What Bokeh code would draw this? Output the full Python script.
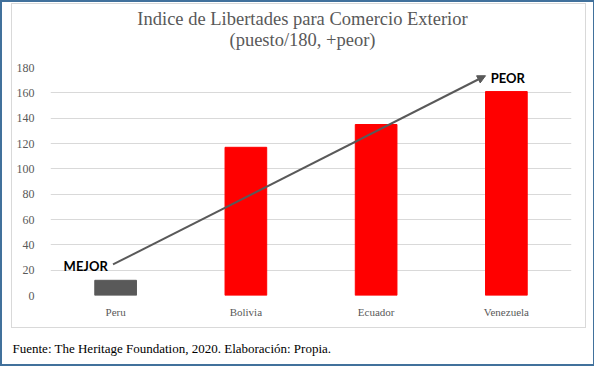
from bokeh.plotting import figure
from bokeh.models import (ColumnDataSource, FactorRange, Range1d, FixedTicker, Label,
                          Arrow, NormalHead)
from bokeh.layouts import column
from bokeh.embed import file_html
from bokeh.resources import INLINE

# ---- data ----
countries = ["Peru", "Bolivia", "Ecuador", "Venezuela"]
rank = [12, 117, 135, 161]
bar_colors = ["#595959", "#ff0000", "#ff0000", "#ff0000"]
y_ticks = [0, 20, 40, 60, 80, 100, 120, 140, 160, 180]

title_lines = ["Indice de Libertades para Comercio Exterior", "(puesto/180, +peor)"]
footer = "Fuente: The Heritage Foundation, 2020. Elaboración: Propia."

# arrow from "MEJOR" to "PEOR" (x in category units, y in rank units)
arrow_x = [0.48, 3.34]
arrow_y = [24.5, 173.5]
note_text = ["MEJOR", "PEOR"]
note_x = [0.44, 3.38]
note_y = [23, 172]


def text_strip(width, height):
    fig = figure(width=width, height=height, output_backend="svg", toolbar_location=None,
                 x_range=Range1d(0, 1), y_range=Range1d(0, 1), x_axis_type=None,
                 y_axis_type=None, min_border=0)
    fig.frame_align = False
    fig.grid.visible = False
    fig.outline_line_color = None
    return fig


# ---- header (two-line title) ----
h = text_strip(573, 55)
for line, ypos in zip(title_lines, [41, 20]):
    h.add_layout(Label(x=290, y=ypos, x_units="screen", y_units="screen", text=line,
                       text_align="center", text_baseline="middle",
                       text_font="Liberation Serif", text_font_size="18.5px",
                       text_color="#595959"))

# ---- main chart ----
p = figure(x_range=FactorRange(*countries), y_range=Range1d(0, 180),
           width=573, height=268, output_backend="svg", toolbar_location=None,
           min_border_left=38, min_border_right=14, min_border_top=8,
           min_border_bottom=32)
p.frame_align = False

src = ColumnDataSource(dict(x=countries, top=rank, color=bar_colors))
p.vbar(x="x", top="top", width=0.32, color="color", source=src)

p.yaxis.ticker = FixedTicker(ticks=y_ticks)
p.yaxis.axis_line_color = None
p.yaxis.major_tick_line_color = None
p.yaxis.minor_tick_line_color = None
p.yaxis.major_label_text_font = "Liberation Serif"
p.yaxis.major_label_text_font_size = "12px"
p.yaxis.major_label_text_color = "#595959"
p.yaxis.major_label_standoff = 10

p.xaxis.axis_line_color = None
p.xaxis.major_tick_line_color = None
p.xaxis.major_label_text_font = "Liberation Serif"
p.xaxis.major_label_text_font_size = "11px"
p.xaxis.major_label_text_color = "#595959"
p.xaxis.major_label_standoff = 4

p.xgrid.grid_line_color = None
p.ygrid.grid_line_color = "#d9d9d9"
p.outline_line_color = None

p.add_layout(Arrow(end=NormalHead(size=8, fill_color="#595959", line_color="#595959"),
                   x_start=arrow_x[0], y_start=arrow_y[0],
                   x_end=arrow_x[1], y_end=arrow_y[1],
                   line_color="#595959", line_width=2))
p.add_layout(Label(x=note_x[0], y=note_y[0], text=note_text[0], text_align="right",
                   text_baseline="middle", text_font="Lato", text_font_style="bold",
                   text_font_size="13px", text_color="#000000"))
p.add_layout(Label(x=note_x[1], y=note_y[1], text=note_text[1], text_align="left",
                   text_baseline="middle", text_font="Lato", text_font_style="bold",
                   text_font_size="13px", text_color="#000000"))

# ---- footer ----
f = text_strip(582, 36)
f.add_layout(Label(x=1, y=16, x_units="screen", y_units="screen", text=footer,
                   text_align="left", text_baseline="middle", text_font="Liberation Serif",
                   text_font_size="13px", text_color="#000000"))

inner = column(h, p, spacing=0, styles={"border": "1px solid #d9d9d9"})
root = column(inner, f, spacing=0,
              styles={"border": "2px solid #41719c", "padding": "1px 0px 0px 9px"})

open("out.html", "w").write(file_html(root, INLINE))
